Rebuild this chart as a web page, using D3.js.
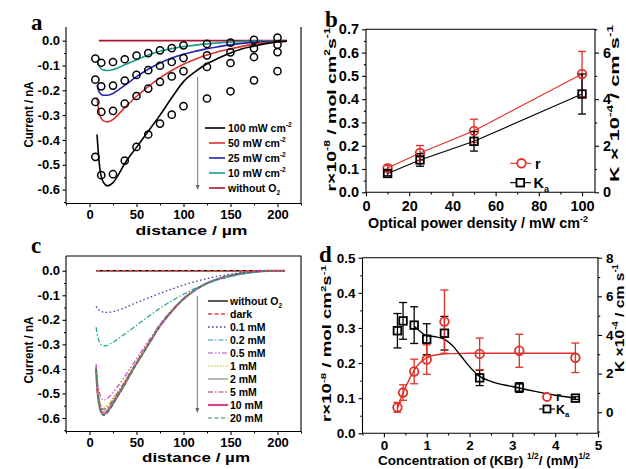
<!DOCTYPE html>
<html><head><meta charset="utf-8">
<script src="https://cdn.jsdelivr.net/npm/d3@7"></script>
<style>
body{margin:0;background:#fff}
svg text{font-family:"Liberation Sans",Arial,sans-serif;font-weight:bold;fill:#000}
</style>
</head><body>
<svg id="c" width="626" height="469"></svg>
<script>
// ---------------- DATA ----------------
// Panel a: experimental points (circles) vs distance (µm)
const distA = [6.25,12.5,25,37.5,50,62.5,75,87.5,100,125,150,175,200];
const expA100 = [-0.468,-0.542,-0.538,-0.483,-0.428,-0.378,-0.334,-0.298,-0.264,-0.233,-0.204,-0.160,-0.123];
const expA50  = [-0.247,-0.287,-0.283,-0.254,-0.223,-0.193,-0.166,-0.144,-0.123,-0.106,-0.090,-0.066,-0.046];
const expA25  = [-0.157,-0.184,-0.181,-0.161,-0.138,-0.119,-0.101,-0.086,-0.070,-0.059,-0.047,-0.031,-0.016];
const expA10  = [-0.072,-0.089,-0.086,-0.075,-0.060,-0.050,-0.039,-0.030,-0.019,-0.013,-0.008,0.003,0.012];
// Panel a: simulated curves
const fitAX  = [8,10,12,15,19,25,30,37.5,50,62.5,75,87.5,100,112.5,125,137.5,150,162.5,175,187.5,200,210];
const fitA100 = [-0.378,-0.48,-0.54,-0.572,-0.585,-0.572,-0.545,-0.495,-0.43,-0.365,-0.30,-0.23,-0.165,-0.125,-0.093,-0.07,-0.05,-0.033,-0.022,-0.012,-0.005,-0.002];
const fitA50  = [-0.23,-0.285,-0.31,-0.323,-0.327,-0.318,-0.30,-0.27,-0.225,-0.185,-0.15,-0.12,-0.095,-0.075,-0.058,-0.044,-0.033,-0.023,-0.015,-0.008,-0.004,-0.002];
const fitA25  = [-0.18,-0.205,-0.215,-0.22,-0.22,-0.213,-0.2,-0.18,-0.145,-0.115,-0.09,-0.07,-0.055,-0.043,-0.032,-0.024,-0.017,-0.011,-0.007,-0.004,-0.002,-0.001];
const fitA10  = [-0.08,-0.1,-0.112,-0.118,-0.12,-0.117,-0.11,-0.097,-0.077,-0.058,-0.043,-0.032,-0.024,-0.018,-0.013,-0.009,-0.006,-0.004,-0.002,-0.001,0,0];
const flatAX = [10,210];
const flatAY = [0,0];
const legendA = ["100 mW cm", "50 mW cm", "25 mW cm", "10 mW cm", "without O"];

// Panel b
const powerB = [10,25,50,100];
const rB     = [0.104,0.169,0.264,0.508];
const rErrB  = [0.011,0.032,0.050,0.097];
const kaB    = [0.81,1.39,2.19,4.22];
const kaErrB = [0.10,0.27,0.42,0.86];

// Panel c: simulated curves vs distance
const distC = [7,8,10,12,15,18,22,27,35,45,55,65,75,87.5,100,112.5,125,137.5,150,162.5,175,190,208];
const c20  = [-0.40,-0.47,-0.54,-0.575,-0.59,-0.583,-0.563,-0.532,-0.482,-0.413,-0.35,-0.287,-0.227,-0.166,-0.116,-0.079,-0.052,-0.034,-0.021,-0.011,-0.005,-0.001,0];
const c10  = [-0.40,-0.468,-0.537,-0.571,-0.585,-0.578,-0.559,-0.528,-0.478,-0.41,-0.347,-0.285,-0.225,-0.165,-0.115,-0.078,-0.051,-0.033,-0.02,-0.011,-0.005,-0.001,0];
const c5   = [-0.39,-0.455,-0.52,-0.552,-0.565,-0.56,-0.543,-0.515,-0.468,-0.403,-0.342,-0.281,-0.222,-0.163,-0.114,-0.077,-0.05,-0.032,-0.02,-0.01,-0.005,-0.001,0];
const c2   = [-0.395,-0.46,-0.527,-0.561,-0.575,-0.569,-0.55,-0.52,-0.472,-0.406,-0.344,-0.283,-0.223,-0.164,-0.114,-0.077,-0.05,-0.033,-0.02,-0.01,-0.005,-0.001,0];
const c1   = [-0.39,-0.45,-0.51,-0.543,-0.555,-0.55,-0.534,-0.507,-0.462,-0.399,-0.339,-0.279,-0.221,-0.162,-0.113,-0.076,-0.05,-0.032,-0.019,-0.01,-0.005,-0.001,0];
const c05  = [-0.38,-0.43,-0.485,-0.515,-0.527,-0.523,-0.51,-0.486,-0.445,-0.387,-0.33,-0.273,-0.217,-0.16,-0.112,-0.076,-0.049,-0.032,-0.019,-0.01,-0.005,-0.001,0];
const c02  = [-0.23,-0.255,-0.285,-0.30,-0.306,-0.305,-0.298,-0.287,-0.265,-0.237,-0.208,-0.18,-0.153,-0.123,-0.096,-0.072,-0.052,-0.036,-0.024,-0.014,-0.007,-0.002,0];
const c01  = [-0.145,-0.152,-0.16,-0.165,-0.169,-0.17,-0.169,-0.165,-0.155,-0.138,-0.122,-0.107,-0.092,-0.075,-0.058,-0.044,-0.032,-0.022,-0.014,-0.008,-0.004,-0.001,0];
const cDark = [0,0,0,0,0,0,0,0,0,0,0,0,0,0,0,0,0,0,0,0,0,0,0];
const cNoO2 = [0,0,0,0,0,0,0,0,0,0,0,0,0,0,0,0,0,0,0,0,0,0,0];
const legendC = ["without O", "dark", "0.1 mM", "0.2 mM", "0.5 mM", "1 mM", "2 mM", "5 mM", "10 mM", "20 mM"];

// Panel d
const sqrtConcD = [0.316,0.447,0.707,1.0,1.414,2.236,3.162,4.472];
const rD     = [0.074,0.116,0.176,0.21,0.318,0.226,0.235,0.215];
const rErrD  = [0.014,0.022,0.035,0.042,0.09,0.045,0.047,0.042];
const kaD    = [4.22,4.73,4.51,3.78,4.09,1.78,1.28,0.73];
const kaErrD = [0.89,0.95,0.95,0.80,0.87,0.40,0.25,0.07];
const rFitX  = [0.316,0.4,0.5,0.6,0.7,0.8,0.9,1.0,1.2,1.4,1.6,2.0,3.0,4.472];
const rFitY  = [0.07,0.1,0.13,0.155,0.178,0.195,0.207,0.215,0.223,0.226,0.227,0.228,0.228,0.228];
const kaFitX = [0.707,0.85,1.0,1.2,1.4,1.6,1.8,2.0,2.2,2.5,3.0,3.5,4.0,4.472];
const kaFitY = [4.45,4.18,3.96,3.91,3.78,3.46,2.91,2.36,1.91,1.60,1.33,1.09,0.88,0.73];

// ---------------- HELPERS ----------------
const svg = d3.select('#c');
const fmt1 = v => (v < -1e-9 ? '-' : '') + Math.abs(v).toFixed(1);
const fmt0 = v => String(v);
const RED = '#e0302a';

function styleAxis(sel, fs) {
  sel.select('.domain').remove();
  sel.selectAll('line').attr('stroke', '#000').attr('stroke-width', 1.1);
  sel.selectAll('text').attr('font-size', fs).attr('fill', '#000')
     .attr('font-family', '"Liberation Sans",Arial,sans-serif').attr('font-weight', 'bold');
}
function axis(gen, scale, tx, ty, major, minor, fmt, fs, len, pad) {
  const g = svg.append('g').attr('transform', `translate(${tx},${ty})`);
  g.call(gen(scale).tickValues(major).tickSize(len).tickPadding(pad).tickFormat(fmt));
  styleAxis(g, fs);
  if (minor && minor.length) {
    const m = svg.append('g').attr('transform', `translate(${tx},${ty})`);
    m.call(gen(scale).tickValues(minor).tickSize(len * 0.55).tickFormat(''));
    styleAxis(m, fs);
  }
  return g;
}
function frame(x0, x1, y0, y1, top) {
  const p = d3.path();
  p.moveTo(x0, y0); p.lineTo(x0, y1); p.lineTo(x1, y1); p.lineTo(x1, y0);
  if (top) p.lineTo(x0, y0);
  svg.append('path').attr('d', p.toString()).attr('fill', 'none').attr('stroke', '#000').attr('stroke-width', 1.1);
}
// rich text: parts = [[text, 'n'|'sup'|'sub'], ...]
function rich(x, y, parts, fs, opts = {}) {
  const t = svg.append('text').attr('font-size', fs)
    .attr('text-anchor', opts.anchor || 'start');
  if (opts.rotate) t.attr('transform', `translate(${x},${y}) rotate(${opts.rotate})`);
  else t.attr('x', x).attr('y', y);
  let prev = 'n';
  parts.forEach(([s, k]) => {
    const ts = t.append('tspan').text(s);
    const off = k === 'sup' ? -0.42 * fs : k === 'sub' ? 0.3 * fs : 0;
    const prevOff = prev === 'sup' ? -0.42 * fs : prev === 'sub' ? 0.3 * fs : 0;
    ts.attr('dy', off - prevOff);
    if (k !== 'n') ts.attr('font-size', fs * 0.62);
    prev = k;
  });
  if (opts.length) t.attr('textLength', opts.length).attr('lengthAdjust', 'spacingAndGlyphs');
  return t;
}
function letter(x, y, s) {
  svg.append('text').attr('x', x).attr('y', y).text(s)
    .attr('font-size', 23).style('font-family', '"Liberation Serif","Times New Roman",serif');
}
function arrow(x, y0, y1) {
  svg.append('line').attr('x1', x).attr('x2', x).attr('y1', y0).attr('y2', y1 - 3)
    .attr('stroke', '#777').attr('stroke-width', 1);
  svg.append('path').attr('d', `M${x - 2},${y1 - 5}L${x + 2},${y1 - 5}L${x},${y1}Z`).attr('fill', '#666');
}
const zip = (a, b) => a.map((v, i) => [v, b[i]]);

// ---------------- PANEL A ----------------
{
  const L = 66, R = 301, T = 27, B = 203.5;
  const x = d3.scaleLinear().domain([-25, 225]).range([L, R]);
  const y = d3.scaleLinear().domain([-0.656, 0.055]).range([B, T]);
  frame(L, R, T, B, false);
  axis(d3.axisLeft, y, L, 0, [0, -0.1, -0.2, -0.3, -0.4, -0.5, -0.6], [-0.05, -0.15, -0.25, -0.35, -0.45, -0.55, -0.65], fmt1, 13, 3.5, 2.5);
  axis(d3.axisBottom, x, 0, B, [0, 50, 100, 150, 200], [-25, 25, 75, 125, 175, 225], fmt0, 13, 3.5, 2.5);
  rich(32.5, 114.5, [['Current / nA', 'n']], 12.5, { anchor: 'middle', rotate: -90, length: 66 });
  rich(191.5, 235, [['distance / \u00b5m', 'n']], 13.5, { anchor: 'middle', length: 112 });
  letter(31, 30, 'a');

  const line = d3.line().x(d => x(d[0])).y(d => y(d[1])).curve(d3.curveMonotoneX);
  const fits = [[fitA10, '#1a9e8c'], [fitA25, '#2424b4'], [fitA50, RED], [fitA100, '#000']];
  svg.append('path').attr('d', line(zip(flatAX, flatAY))).attr('fill', 'none').attr('stroke', '#a3182e').attr('stroke-width', 1.6);
  fits.forEach(([ys, c]) => svg.append('path').attr('d', line(zip(fitAX, ys)))
      .attr('fill', 'none').attr('stroke', c).attr('stroke-width', 1.6));
  [expA10, expA25, expA50, expA100].forEach(ys => {
    svg.append('g').selectAll('circle').data(zip(distA, ys)).join('circle')
      .attr('cx', d => x(d[0])).attr('cy', d => y(d[1])).attr('r', 3.6)
      .attr('fill', 'none').attr('stroke', '#000').attr('stroke-width', 1.5);
  });
  arrow(197.7, 77, 190);
  const legCols = ['#000', RED, '#2424b4', '#1a9e8c', '#a3182e'];
  legendA.forEach((s, i) => {
    const yy = 128 + i * 15;
    svg.append('line').attr('x1', i === 0 ? 205 : 209).attr('x2', 225).attr('y1', yy).attr('y2', yy)
      .attr('stroke', legCols[i]).attr('stroke-width', 1.6);
    if (i < 4) rich(228, yy + 3.5, [[s, 'n'], ['-2', 'sup']], 10.5);
    else rich(228, yy + 3.5, [[s, 'n'], ['2', 'sub']], 10.5);
  });
}

// ---------------- PANEL B ----------------
{
  const L = 366, R = 595, T = 29.3, B = 192.3;
  const x = d3.scaleLinear().domain([0, 106]).range([L, R]);
  const y = d3.scaleLinear().domain([0, 0.7]).range([B, T]);
  const y2 = d3.scaleLinear().domain([0, 7]).range([B, T]);
  frame(L, R, T, B, true);
  axis(d3.axisLeft, y, L, 0, [0, 0.1, 0.2, 0.3, 0.4, 0.5, 0.6, 0.7], [0.05, 0.15, 0.25, 0.35, 0.45, 0.55, 0.65], fmt1, 14.5, 4, 3);
  axis(d3.axisRight, y2, R, 0, [0, 2, 4, 6], [1, 3, 5, 7], fmt0, 14.5, 4, 4);
  axis(d3.axisBottom, x, 0, B, [0, 20, 40, 60, 80, 100], [10, 30, 50, 70, 90], fmt0, 14.5, 4, 4);
  rich(478, 228, [['Optical power density / mW cm', 'n'], ['-2', 'sup']], 14, { anchor: 'middle', length: 220 });
  rich(336, 109.5, [['r\u00d710', 'n'], ['-8', 'sup'], [' / mol cm', 'n'], ['2', 'sup'], ['s', 'n'], ['-1', 'sup']], 13.5, { anchor: 'middle', rotate: -90, length: 164 });
  rich(619, 103.5, [['K \u00d7 10', 'n'], ['-4', 'sup'], [' / cm s', 'n'], ['-1', 'sup']], 13.5, { anchor: 'middle', rotate: -90, length: 157 });
  letter(325, 27, 'b');

  const line = d3.line().x(d => x(d[0])).y(d => d[1]);
  svg.append('path').attr('d', line(powerB.map((p, i) => [p, y(rB[i])]))).attr('fill', 'none').attr('stroke', RED).attr('stroke-width', 1.1);
  svg.append('path').attr('d', line(powerB.map((p, i) => [p, y2(kaB[i])]))).attr('fill', 'none').attr('stroke', '#000').attr('stroke-width', 1.1);
  function errs(vals, errsA, sc, col) {
    powerB.forEach((p, i) => {
      const cx = x(p), a = sc(vals[i] - errsA[i]), b = sc(vals[i] + errsA[i]);
      svg.append('line').attr('x1', cx).attr('x2', cx).attr('y1', a).attr('y2', b).attr('stroke', col).attr('stroke-width', 1.3);
      [a, b].forEach(v => svg.append('line').attr('x1', cx - 4).attr('x2', cx + 4).attr('y1', v).attr('y2', v).attr('stroke', col).attr('stroke-width', 1.3));
    });
  }
  errs(rB, rErrB, y, RED);
  errs(kaB, kaErrB, y2, '#000');
  powerB.forEach((p, i) => {
    svg.append('circle').attr('cx', x(p)).attr('cy', y(rB[i])).attr('r', 4.3).attr('fill', 'none').attr('stroke', RED).attr('stroke-width', 1.8);
    svg.append('rect').attr('x', x(p) - 3.8).attr('y', y2(kaB[i]) - 3.8).attr('width', 7.6).attr('height', 7.6).attr('fill', 'none').attr('stroke', '#000').attr('stroke-width', 1.8);
  });
  // legend
  svg.append('line').attr('x1', 510).attr('x2', 531).attr('y1', 163.3).attr('y2', 163.3).attr('stroke', RED).attr('stroke-width', 1.1);
  svg.append('circle').attr('cx', 521.5).attr('cy', 163.3).attr('r', 4.3).attr('fill', '#fff').attr('stroke', RED).attr('stroke-width', 1.8);
  rich(535, 168.5, [['r', 'n']], 14.5);
  svg.append('line').attr('x1', 510).attr('x2', 531).attr('y1', 182.7).attr('y2', 182.7).attr('stroke', '#000').attr('stroke-width', 1.1);
  svg.append('rect').attr('x', 516.5).attr('y', 178.9).attr('width', 7.6).attr('height', 7.6).attr('fill', '#fff').attr('stroke', '#000').attr('stroke-width', 1.8);
  rich(533.5, 188, [['K', 'n'], ['a', 'sub']], 14.5);
}

// ---------------- PANEL C ----------------
{
  const L = 66, R = 301, T = 256, B = 431.5;
  const x = d3.scaleLinear().domain([-25, 225]).range([L, R]);
  const y = d3.scaleLinear().domain([-0.655, 0.06]).range([B, T]);
  frame(L, R, T, B, true);
  axis(d3.axisLeft, y, L, 0, [0, -0.1, -0.2, -0.3, -0.4, -0.5, -0.6], [-0.05, -0.15, -0.25, -0.35, -0.45, -0.55, -0.65], fmt1, 13, 3.5, 2.5);
  axis(d3.axisBottom, x, 0, B, [0, 50, 100, 150, 200], [-25, 25, 75, 125, 175, 225], fmt0, 13, 3.5, 2.5);
  rich(32.5, 350, [['Current / nA', 'n']], 12.5, { anchor: 'middle', rotate: -90, length: 67 });
  rich(196, 462, [['distance / \u00b5m', 'n']], 13.5, { anchor: 'middle', length: 108 });
  letter(31, 253, 'c');

  const line = d3.line().x(d => x(d[0])).y(d => y(d[1])).curve(d3.curveMonotoneX);
  const series = [
    [cNoO2, '#000', null, 1.3],
    [c10, '#d2468c', null, 2.2],
    [c2, '#8a8a8a', null, 1.2],
    [c5, '#8a4a6a', '5,2,1.5,2', 1.2],
    [c1, '#c8b832', '1.5,1.5', 1.2],
    [c05, '#c048c8', '5,2,1.5,2,1.5,2', 1.2],
    [c20, '#2c8a50', '4,2.5', 1.2],
    [c02, '#1fa59a', '5,2,1.5,2', 1.2],
    [c01, '#3a3fa0', '1.5,2.5', 1.3],
    [cDark, '#e8413c', '4,2.5', 1.3]
  ];
  series.forEach(([ys, c, dash, w]) => {
    const p = svg.append('path').attr('d', line(zip(distC, ys))).attr('fill', 'none').attr('stroke', c).attr('stroke-width', w);
    if (dash) p.attr('stroke-dasharray', dash);
  });
  arrow(197.3, 296, 413);
  const legStyle = [
    ['#000', null, 1.3], ['#e8413c', '4,2.5', 1.3], ['#3a3fa0', '1.5,2.5', 1.3], ['#1fa59a', '5,2,1.5,2', 1.2],
    ['#c048c8', '5,2,1.5,2,1.5,2', 1.2], ['#c8b832', '1.5,1.5', 1.2], ['#8a8a8a', null, 1.2],
    ['#8a4a6a', '5,2,1.5,2', 1.2], ['#d2468c', null, 2.2], ['#2c8a50', '4,2.5', 1.2]
  ];
  legendC.forEach((s, i) => {
    const yy = 301 + i * 13;
    const [c, dash, w] = legStyle[i];
    const l = svg.append('line').attr('x1', 208).attr('x2', 228).attr('y1', yy).attr('y2', yy).attr('stroke', c).attr('stroke-width', w);
    if (dash) l.attr('stroke-dasharray', dash);
    if (i === 0) rich(230, yy + 3.5, [[s, 'n'], ['2', 'sub']], 10.5);
    else rich(230, yy + 3.5, [[s, 'n']], 10.5);
  });
}

// ---------------- PANEL D ----------------
{
  const L = 362.5, R = 598, T = 257.7, B = 433.3;
  const x = d3.scaleLinear().domain([-0.5, 5]).range([L, R]);
  const y = d3.scaleLinear().domain([0, 0.5]).range([B, T]);
  const y2 = d3.scaleLinear().domain([-1.09, 8]).range([B, T]);
  frame(L, R, T, B, true);
  axis(d3.axisLeft, y, L, 0, [0, 0.1, 0.2, 0.3, 0.4, 0.5], [0.05, 0.15, 0.25, 0.35, 0.45], fmt1, 13.5, 4, 3);
  axis(d3.axisRight, y2, R, 0, [0, 2, 4, 6, 8], [-1, 1, 3, 5, 7], fmt0, 13.5, 4, 4);
  axis(d3.axisBottom, x, 0, B, [0, 1, 2, 3, 4, 5], [-0.5, 0.5, 1.5, 2.5, 3.5, 4.5], fmt0, 13.5, 4, 3);
  rich(484, 465, [['Concentration of (KBr) ', 'n'], ['1/2', 'sup'], ['/ (mM)', 'n'], ['1/2', 'sup']], 13.5, { anchor: 'middle', length: 212 });
  rich(331, 343.5, [['r\u00d710', 'n'], ['-8', 'sup'], [' / mol cm', 'n'], ['2', 'sup'], ['s', 'n'], ['-1', 'sup']], 13, { anchor: 'middle', rotate: -90, length: 157 });
  rich(624, 318, [['K \u00d710', 'n'], ['-4', 'sup'], [' / cm s', 'n'], ['-1', 'sup']], 13.5, { anchor: 'middle', rotate: -90, length: 108 });
  letter(319, 262, 'd');

  const line = d3.line().x(d => x(d[0])).y(d => d[1]).curve(d3.curveMonotoneX);
  svg.append('path').attr('d', line(rFitX.map((v, i) => [v, y(rFitY[i])]))).attr('fill', 'none').attr('stroke', RED).attr('stroke-width', 1.4);
  svg.append('path').attr('d', line(kaFitX.map((v, i) => [v, y2(kaFitY[i])]))).attr('fill', 'none').attr('stroke', '#000').attr('stroke-width', 1.4);
  function errs(vals, e, sc, col) {
    sqrtConcD.forEach((p, i) => {
      const cx = x(p), a = sc(vals[i] - e[i]), b = sc(vals[i] + e[i]);
      svg.append('line').attr('x1', cx).attr('x2', cx).attr('y1', a).attr('y2', b).attr('stroke', col).attr('stroke-width', 1.3);
      [a, b].forEach(v => svg.append('line').attr('x1', cx - 4).attr('x2', cx + 4).attr('y1', v).attr('y2', v).attr('stroke', col).attr('stroke-width', 1.3));
    });
  }
  errs(kaD, kaErrD, y2, '#000');
  errs(rD, rErrD, y, RED);
  sqrtConcD.forEach((p, i) => {
    svg.append('rect').attr('x', x(p) - 3.8).attr('y', y2(kaD[i]) - 3.8).attr('width', 7.6).attr('height', 7.6).attr('fill', 'none').attr('stroke', '#000').attr('stroke-width', 1.8);
    svg.append('circle').attr('cx', x(p)).attr('cy', y(rD[i])).attr('r', 4.3).attr('fill', 'none').attr('stroke', RED).attr('stroke-width', 1.8);
  });
  // legend
  svg.append('circle').attr('cx', 547).attr('cy', 397).attr('r', 4).attr('fill', '#fff').attr('stroke', RED).attr('stroke-width', 1.8);
  rich(556, 401, [['r', 'n']], 12.5);
  svg.append('line').attr('x1', 539).attr('x2', 555).attr('y1', 409).attr('y2', 409).attr('stroke', '#000').attr('stroke-width', 1.1);
  svg.append('rect').attr('x', 543.5).attr('y', 405.5).attr('width', 7).attr('height', 7).attr('fill', '#fff').attr('stroke', '#000').attr('stroke-width', 1.8);
  rich(556, 413.5, [['K', 'n'], ['a', 'sub']], 12.5);
}
</script>
</body></html>
